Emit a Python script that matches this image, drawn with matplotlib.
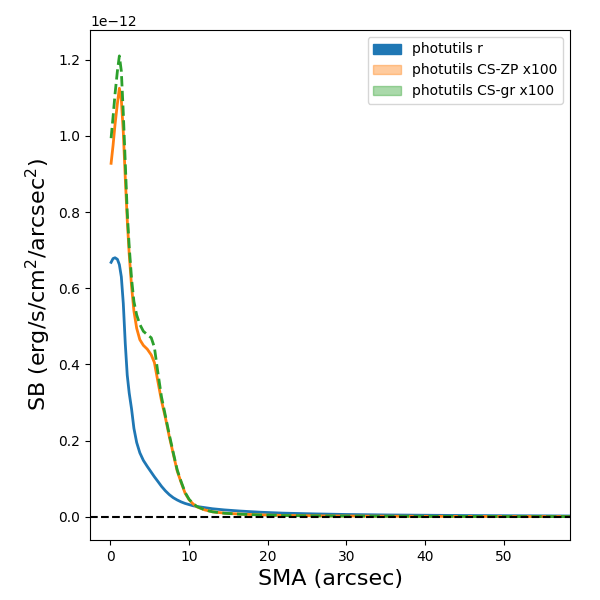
import numpy as np
import matplotlib
matplotlib.use("Agg")
import matplotlib.pyplot as plt
import matplotlib.patches as mpatches

sma = [0.1, 0.35, 0.6, 0.9, 1.15, 1.4, 1.65, 1.9, 2.15, 2.4, 2.7, 3.0, 3.35, 3.75,
       4.2, 4.7, 5.2, 5.6, 6.0, 6.5, 7.0, 7.5, 8.0, 8.5, 9.0, 9.5, 10.0, 10.5, 11.0,
       12.0, 13.0, 14.5, 16.5, 19, 22, 26, 30, 35, 40, 45, 50, 55, 59]

sb_r = [0.668, 0.678, 0.680, 0.676, 0.662, 0.63, 0.56, 0.455, 0.372, 0.325, 0.283,
        0.232, 0.195, 0.168, 0.148, 0.132, 0.117, 0.105, 0.094, 0.080, 0.068, 0.058,
        0.050, 0.044, 0.039, 0.035, 0.032, 0.029, 0.027, 0.024, 0.021, 0.018, 0.015,
        0.012, 0.0095, 0.0075, 0.006, 0.0048, 0.004, 0.0033, 0.0028, 0.0024, 0.002]

sb_zp = [0.928, 0.975, 1.03, 1.085, 1.125, 1.095, 1.01, 0.89, 0.78, 0.69, 0.605,
         0.54, 0.495, 0.465, 0.45, 0.44, 0.425, 0.405, 0.36, 0.305, 0.26, 0.21,
         0.165, 0.12, 0.09, 0.062, 0.045, 0.034, 0.026, 0.018, 0.013, 0.0095, 0.007,
         0.005, 0.0035, 0.0025, 0.002, 0.0015, 0.0012, 0.001, 0.0008, 0.0007, 0.0006]

sb_gr = [0.994, 1.05, 1.11, 1.17, 1.21, 1.17, 1.06, 0.93, 0.80, 0.71, 0.625,
         0.565, 0.53, 0.505, 0.487, 0.478, 0.47, 0.445, 0.385, 0.315, 0.265, 0.215,
         0.168, 0.123, 0.092, 0.064, 0.046, 0.035, 0.027, 0.018, 0.013, 0.0093, 0.0068,
         0.0048, 0.0033, 0.0023, 0.0018, 0.0014, 0.0011, 0.0009, 0.0007, 0.0006, 0.0005]

scale = 1e-12
x = np.array(sma)
yr = np.array(sb_r) * scale
yzp = np.array(sb_zp) * scale
ygr = np.array(sb_gr) * scale

fig = plt.figure(figsize=(6, 6), dpi=100)
ax = fig.add_axes([0.15, 0.10, 0.80, 0.85])

ax.plot(x, yr, color="C0", lw=2)
ax.plot(x, yzp, color="C1", lw=2)
ax.plot(x, ygr, color="C2", lw=2, ls="--")
ax.axhline(0, color="black", ls="--", lw=1.5)

ax.set_xlim(-2.58, 58.4)
ax.set_ylim(-0.061e-12, 1.278e-12)
ax.set_xlabel("SMA (arcsec)", fontsize=16)
ax.set_ylabel("SB (erg/s/cm$^2$/arcsec$^2$)", fontsize=16)

handles = [mpatches.Patch(color="C0", label="photutils r"),
           mpatches.Patch(color="C1", alpha=0.4, label="photutils CS-ZP x100"),
           mpatches.Patch(color="C2", alpha=0.4, label="photutils CS-gr x100")]
ax.legend(handles=handles, loc="upper right")

fig.savefig("out.png", dpi=100)
